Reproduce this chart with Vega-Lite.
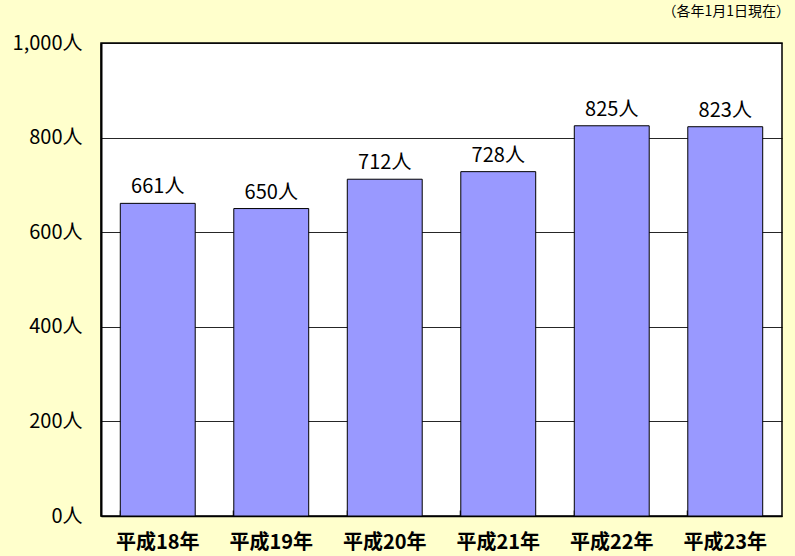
{
  "$schema": "https://vega.github.io/schema/vega-lite/v6.json",
  "width": 681,
  "height": 473,
  "autosize": {"type": "none"},
  "padding": {"left": 101, "top": 43, "right": 13, "bottom": 40},
  "background": "#FFFFCC",
  "title": {
    "text": "（各年1月1日現在）",
    "anchor": "end",
    "frame": "group",
    "baseline": "bottom",
    "offset": 0,
    "dx": 8,
    "fontSize": 14,
    "fontWeight": "normal",
    "font": "Noto Sans CJK JP",
    "color": "#000000"
  },
  "config": {
    "view": {"fill": "#FFFFFF", "stroke": "#000000", "strokeWidth": 1.5},
    "axis": {"labelFont": "Noto Sans CJK JP", "labelColor": "#000000", "domainColor": "#000000"}
  },
  "data": {
    "values": [
      {"year": "平成18年", "count": 661},
      {"year": "平成19年", "count": 650},
      {"year": "平成20年", "count": 712},
      {"year": "平成21年", "count": 728},
      {"year": "平成22年", "count": 825},
      {"year": "平成23年", "count": 823}
    ]
  },
  "encoding": {
    "x": {
      "field": "year",
      "type": "nominal",
      "sort": null,
      "scale": {"paddingInner": 0.34, "paddingOuter": 0.17},
      "axis": {
        "title": null,
        "labelAngle": 0,
        "labelFontSize": 20,
        "labelFontWeight": "bold",
        "labelPadding": 22,
        "bandPosition": 0,
        "tickSize": -6,
        "tickColor": "#000000",
        "tickWidth": 1.5,
        "domainWidth": 1.5,
        "grid": false
      }
    },
    "y": {
      "field": "count",
      "type": "quantitative",
      "scale": {"domain": [0, 1000], "nice": false},
      "axis": {
        "title": null,
        "values": [0, 200, 400, 600, 800, 1000],
        "labelExpr": "format(datum.value, ',') + '人'",
        "labelFontSize": 20,
        "labelPadding": 19,
        "ticks": false,
        "domainWidth": 2,
        "grid": true,
        "gridColor": "#000000",
        "gridWidth": 1,
        "gridOpacity": 0.85
      }
    }
  },
  "layer": [
    {
      "mark": {"type": "bar", "fill": "#9999FF", "stroke": "#000000", "strokeWidth": 1}
    },
    {
      "mark": {"type": "text", "baseline": "alphabetic", "dy": -10, "fontSize": 20, "font": "Noto Sans CJK JP", "color": "#000000"},
      "encoding": {
        "text": {"value": {"expr": "datum.count + '人'"}}
      }
    }
  ]
}
